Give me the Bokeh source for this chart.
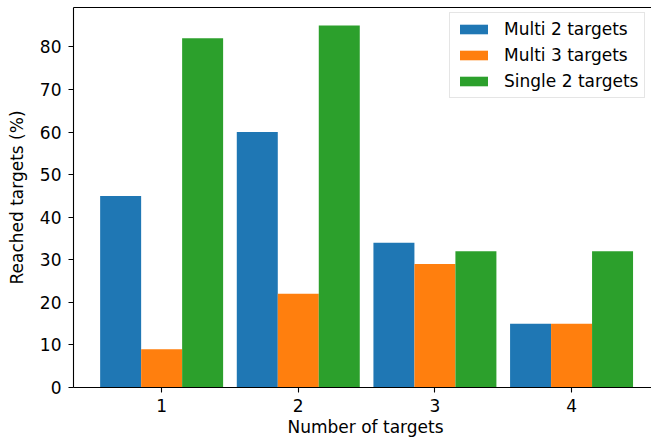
from bokeh.plotting import figure
from bokeh.models import (ColumnDataSource, Range1d, LinearAxis, FixedTicker,
                          Legend, LegendItem, Title)
from bokeh.embed import file_html
from bokeh.resources import INLINE

# Reached-target percentages per number of targets
num_targets = [1, 2, 3, 4]
multi_2 = [45, 60, 34, 15]
multi_3 = [9, 22, 29, 15]
single_2 = [82, 85, 32, 32]
series_names = ["Multi 2 targets", "Multi 3 targets", "Single 2 targets"]
series_colors = ["#1f77b4", "#ff7f0e", "#2ca02c"]
y_ticks = [0, 10, 20, 30, 40, 50, 60, 70, 80]

FONT = "DejaVu Sans"
FS = "17px"
BAR_W = 0.3

p = figure(width=651, height=447, output_backend="svg", toolbar_location=None,
           x_range=Range1d(0.355, 4.585), y_range=Range1d(0, 89.25),
           min_border_left=73, min_border_right=0, min_border_top=7,
           min_border_bottom=60, x_axis_location=None, y_axis_location=None)
p.background_fill_color = "white"
p.border_fill_color = "white"
p.outline_line_color = None
p.grid.visible = False

renderers = []
for i, (vals, color) in enumerate(zip([multi_2, multi_3, single_2], series_colors)):
    src = ColumnDataSource(dict(x=[g + (i - 1) * BAR_W for g in num_targets], top=vals))
    r = p.vbar(x="x", top="top", width=BAR_W, bottom=0, source=src,
               fill_color=color, line_color=None)
    renderers.append(r)

def style_axis(ax):
    ax.axis_line_color = "black"
    ax.axis_line_width = 1.1
    ax.major_tick_line_color = "black"
    ax.major_tick_line_width = 1.1
    ax.major_tick_out = 5
    ax.major_tick_in = 0
    ax.minor_tick_line_color = None
    ax.major_label_text_font = FONT
    ax.major_label_text_font_size = FS
    ax.major_label_text_color = "black"
    ax.axis_label_text_font = FONT
    ax.axis_label_text_font_size = FS
    ax.axis_label_text_font_style = "normal"
    ax.axis_label_text_color = "black"

xaxis = LinearAxis(ticker=FixedTicker(ticks=num_targets))
style_axis(xaxis)
xaxis.major_label_standoff = 6
p.add_layout(xaxis, "below")

yaxis = LinearAxis(ticker=FixedTicker(ticks=y_ticks), axis_label="Reached targets (%)")
style_axis(yaxis)
yaxis.major_label_standoff = 7
yaxis.axis_label_standoff = 10
p.add_layout(yaxis, "left")

# top spine only
top = LinearAxis(ticker=FixedTicker(ticks=[]))
top.axis_line_color = "black"
top.axis_line_width = 1.1
top.major_tick_out = 0
top.major_tick_in = 0
top.minor_tick_out = 0
top.minor_tick_in = 0
top.major_label_text_font_size = "0px"
top.major_label_standoff = 0
p.add_layout(top, "above")

# x axis title, centred under the full (wider) axes box
p.add_layout(Title(text="Number of targets", align="left", offset=214,
                   text_font=FONT, text_font_size=FS, text_font_style="normal",
                   text_color="black", standoff=0), "below")

legend = Legend(items=[LegendItem(label=n, renderers=[r]) for n, r in zip(series_names, renderers)],
                location=(376, 289), margin=0, padding=6, spacing=6,
                glyph_width=35, glyph_height=12, label_height=20, label_standoff=13,
                label_text_font=FONT, label_text_font_size=FS, label_text_color="black",
                border_line_color="#cccccc", border_line_width=1,
                background_fill_color="white", background_fill_alpha=0.8)
p.add_layout(legend)

open("out.html", "w").write(file_html(p, INLINE))
